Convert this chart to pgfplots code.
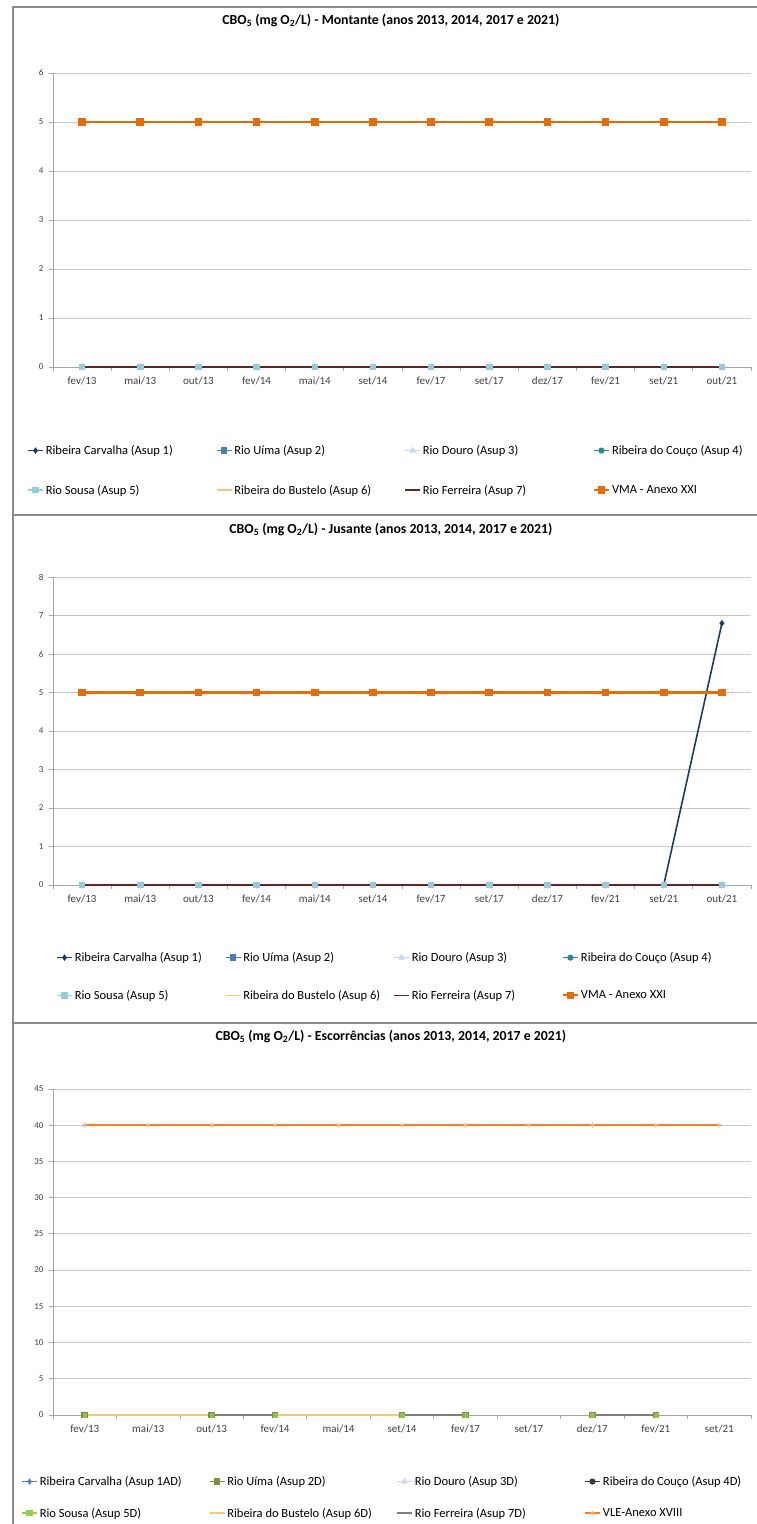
\documentclass[border=0pt]{standalone}
\usepackage{fontspec}
\setmainfont{Carlito}
\usepackage{pgfplots}
\pgfplotsset{compat=1.18}
\definecolor{Frame}{HTML}{8C8C8C}
\definecolor{AxisGray}{HTML}{A6A6A6}
\definecolor{GridGray}{HTML}{C8C8C8}
\definecolor{TickText}{HTML}{404040}
\definecolor{Navy}{HTML}{1F3864}
\definecolor{UimaBlue}{HTML}{4A7EBB}
\definecolor{DouroBlue}{HTML}{C6D9F1}
\definecolor{CoucoTeal}{HTML}{31859C}
\definecolor{SousaSky}{HTML}{93CDDD}
\definecolor{Bustelo}{HTML}{FAC775}
\definecolor{Ferreira}{HTML}{632523}
\definecolor{VMA}{HTML}{E46C0A}
\definecolor{CarvBlue}{HTML}{4F81BD}
\definecolor{Olive}{HTML}{77933C}
\definecolor{Plum}{HTML}{403151}
\definecolor{Lime}{HTML}{92D050}
\definecolor{FerrGray}{HTML}{7F7F7F}
\definecolor{VLE}{HTML}{F0812A}

\newcommand{\LA}[1]{\makebox[168pt][l]{#1}}
\newcommand{\LB}[1]{\makebox[148pt][l]{#1}}
\newcommand{\LC}[1]{\makebox[167pt][l]{#1}}

\pgfplotsset{
  excel/.style={
    scale only axis, width=698pt, anchor=south west,
    axis x line*=bottom, axis y line*=left,
    axis line style={color=AxisGray,line width=0.9pt},
    ymajorgrids, grid style={color=GridGray,line width=0.9pt},
    tick align=outside, major tick length=4pt,
    tick style={color=AxisGray,line width=0.8pt},
    xticklabels={},
    extra x tick style={major tick length=0pt},
    /pgf/number format/assume math mode=true,
    yticklabel style={font=\fontsize{9}{10}\selectfont,color=TickText,xshift=-2pt},
    xticklabel style={font=\fontsize{11}{12}\selectfont,color=TickText,yshift=-6pt},
    every axis title/.style={anchor=center,font=\bfseries\fontsize{13.8}{16}\selectfont},
    clip=false,
    legend columns=4,
    legend cell align=left,
    legend style={draw=none,fill=none,font=\fontsize{12.5}{15}\selectfont,
      anchor=north west,row sep=25pt,column sep=0pt},
    legend image code/.code={
      \draw[mark repeat=2,mark phase=2,##1] plot coordinates {(0pt,0pt) (7.5pt,0pt) (15pt,0pt)};},
  },
  s1/.style={color=Navy,line width=1.6pt,mark=diamond*,mark size=2pt},
  s2/.style={color=UimaBlue,line width=1.5pt,mark=square*,mark size=2.5pt},
  s3/.style={color=DouroBlue,line width=1.5pt,mark=triangle*,mark size=2.5pt},
  s4/.style={color=CoucoTeal,line width=1.5pt,mark=*,mark size=2.3pt},
  s5/.style={color=SousaSky,line width=1.5pt,mark=square*,mark size=2.5pt},
  s6/.style={color=Bustelo,line width=1.5pt,mark=none},
  s7/.style={color=Ferreira,line width=1.5pt,mark=none},
  s8/.style={color=VMA,line width=2.2pt,mark=square*,mark size=2.7pt},
}

\begin{document}
\begin{tikzpicture}
\useasboundingbox (0pt,0pt) rectangle (757pt,1524pt);
\draw[Frame,line width=2pt] (13pt,0pt) -- (13pt,1517pt) -- (800pt,1517pt);
\draw[Frame,line width=2.5pt] (13pt,1009pt) -- (800pt,1009pt);
\draw[Frame,line width=2.5pt] (13pt,501pt) -- (800pt,501pt);

% ---------- Montante ----------
\begin{axis}[excel,
  at={(53pt,1157pt)}, height=294pt,
  xmin=-0.5, xmax=11.5, ymin=0, ymax=6, ytick={0,1,...,6},
  xtick={-0.5,0.5,...,11.5},
  extra x ticks={0,1,...,11},
  extra x tick labels={fev/13,mai/13,out/13,fev/14,mai/14,set/14,fev/17,set/17,dez/17,fev/21,set/21,out/21},
  title={CBO\textsubscript{5} (mg O\textsubscript{2}/L) - Montante (anos 2013, 2014, 2017 e 2021)},
  title style={at={(0.484,1.18)}},
  legend style={at={(-0.0415,-0.252)}},
]
\addplot[s1] coordinates {(0,0) (1,0) (2,0) (3,0) (4,0) (5,0) (6,0) (7,0) (8,0) (9,0) (10,0) (11,0)};
\addlegendentry{\LA{Ribeira Carvalha (Asup 1)}}
\addplot[s2] coordinates {(0,0) (1,0) (2,0) (3,0) (4,0) (5,0) (6,0) (7,0) (8,0) (9,0) (10,0) (11,0)};
\addlegendentry{\LA{Rio Uíma (Asup 2)}}
\addplot[s3] coordinates {(0,0) (1,0) (2,0) (3,0) (4,0) (5,0) (6,0) (7,0) (8,0) (9,0) (10,0) (11,0)};
\addlegendentry{\LA{Rio Douro (Asup 3)}}
\addplot[s4] coordinates {(0,0) (1,0) (2,0) (3,0) (4,0) (5,0) (6,0) (7,0) (8,0) (9,0) (10,0) (11,0)};
\addlegendentry{\LA{Ribeira do Couço (Asup 4)}}
\addplot[s5] coordinates {(0,0) (1,0) (2,0) (3,0) (4,0) (5,0) (6,0) (7,0) (8,0) (9,0) (10,0) (11,0)};
\addlegendentry{\LA{Rio Sousa (Asup 5)}}
\addplot[s6] coordinates {(0,0) (1,0) (2,0) (3,0) (4,0) (5,0) (6,0) (7,0) (8,0) (9,0) (10,0) (11,0)};
\addlegendentry{\LA{Ribeira do Bustelo (Asup 6)}}
\addplot[s7] coordinates {(0,0) (1,0) (2,0) (3,0) (4,0) (5,0) (6,0) (7,0) (8,0) (9,0) (10,0) (11,0)};
\addlegendentry{\LA{Rio Ferreira (Asup 7)}}
\addplot[s8] coordinates {(0,5) (1,5) (2,5) (3,5) (4,5) (5,5) (6,5) (7,5) (8,5) (9,5) (10,5) (11,5)};
\addlegendentry{\LA{VMA - Anexo XXI}}
\end{axis}

% ---------- Jusante ----------
\begin{axis}[excel,
  at={(53pt,639pt)}, height=308pt,
  xmin=-0.5, xmax=11.5, ymin=0, ymax=8, ytick={0,1,...,8},
  xtick={-0.5,0.5,...,11.5},
  extra x ticks={0,1,...,11},
  extra x tick labels={fev/13,mai/13,out/13,fev/14,mai/14,set/14,fev/17,set/17,dez/17,fev/21,set/21,out/21},
  title={CBO\textsubscript{5} (mg O\textsubscript{2}/L) - Jusante (anos 2013, 2014, 2017 e 2021)},
  title style={at={(0.484,1.153)}},
  legend style={at={(0,-0.205)},row sep=23pt},
]
\addplot[s1] coordinates {(0,0) (1,0) (2,0) (3,0) (4,0) (5,0) (6,0) (7,0) (8,0) (9,0) (10,0) (11,6.8)};
\addlegendentry{\LB{Ribeira Carvalha (Asup 1)}}
\addplot[s2] coordinates {(0,0) (1,0) (2,0) (3,0) (4,0) (5,0) (6,0) (7,0) (8,0) (9,0) (10,0) (11,0)};
\addlegendentry{\LB{Rio Uíma (Asup 2)}}
\addplot[s3] coordinates {(0,0) (1,0) (2,0) (3,0) (4,0) (5,0) (6,0) (7,0) (8,0) (9,0) (10,0) (11,0)};
\addlegendentry{\LB{Rio Douro (Asup 3)}}
\addplot[s4] coordinates {(0,0) (1,0) (2,0) (3,0) (4,0) (5,0) (6,0) (7,0) (8,0) (9,0) (10,0) (11,0)};
\addlegendentry{\LB{Ribeira do Couço (Asup 4)}}
\addplot[s5] coordinates {(0,0) (1,0) (2,0) (3,0) (4,0) (5,0) (6,0) (7,0) (8,0) (9,0) (10,0) (11,0)};
\addlegendentry{\LB{Rio Sousa (Asup 5)}}
\addplot[s6] coordinates {(0,0) (1,0) (2,0) (3,0) (4,0) (5,0) (6,0) (7,0) (8,0) (9,0) (10,0) (11,0)};
\addlegendentry{\LB{Ribeira do Bustelo (Asup 6)}}
\addplot[s7] coordinates {(0,0) (1,0) (2,0) (3,0) (4,0) (5,0) (6,0) (7,0) (8,0) (9,0) (10,0) (11,0)};
\addlegendentry{\LB{Rio Ferreira (Asup 7)}}
\addplot[s8] coordinates {(0,5) (1,5) (2,5) (3,5) (4,5) (5,5) (6,5) (7,5) (8,5) (9,5) (10,5) (11,5)};
\addlegendentry{\LB{VMA - Anexo XXI}}
\end{axis}

% ---------- Escorrências ----------
\begin{axis}[excel,
  at={(53pt,109pt)}, height=326pt,
  xmin=-0.5, xmax=10.5, ymin=0, ymax=45, ytick={0,5,...,45},
  xtick={-0.5,0.5,...,10.5},
  extra x ticks={0,1,...,10},
  extra x tick labels={fev/13,mai/13,out/13,fev/14,mai/14,set/14,fev/17,set/17,dez/17,fev/21,set/21},
  title={CBO\textsubscript{5} (mg O\textsubscript{2}/L) - Escorrências (anos 2013, 2014, 2017 e 2021)},
  title style={at={(0.484,1.16)}},
  legend style={at={(-0.050,-0.175)},row sep=17pt},
  unbounded coords=jump,
]
\addlegendimage{color=CarvBlue,line width=1.5pt,mark=diamond*,mark size=2pt}
\addlegendentry{\LC{Ribeira Carvalha (Asup 1AD)}}
\addplot[color=Olive,line width=1.5pt,mark=square*,mark size=2.5pt] coordinates {(0,0) (1,nan) (2,0) (3,0) (4,nan) (5,0) (6,0) (7,nan) (8,0) (9,0) (10,nan)};
\addlegendentry{\LC{Rio Uíma (Asup 2D)}}
\addlegendimage{color=DouroBlue,line width=1.5pt,mark=triangle*,mark size=2.5pt}
\addlegendentry{\LC{Rio Douro (Asup 3D)}}
\addlegendimage{color=Plum,line width=1.5pt,mark=*,mark size=2.3pt}
\addlegendentry{\LC{Ribeira do Couço (Asup 4D)}}
\addlegendimage{color=Lime,line width=1.5pt,mark=square*,mark size=2.5pt}
\addlegendentry{\LC{Rio Sousa (Asup 5D)}}
\addplot[color=Bustelo,line width=1.5pt,mark=none] coordinates {(0,0) (1,0) (2,0) (3,0) (4,0) (5,0)};
\addlegendentry{\LC{Ribeira do Bustelo (Asup 6D)}}
\addplot[color=FerrGray,line width=1.5pt,mark=none] coordinates {(2,0) (3,0) (4,nan) (5,0) (6,0) (7,nan) (8,0) (9,0)};
\addlegendentry{\LC{Rio Ferreira (Asup 7D)}}
\addplot[color=VLE,line width=2.2pt,mark=asterisk,mark size=2.5pt,mark options={color=VLE!60,line width=0.8pt}] coordinates {(0,40) (1,40) (2,40) (3,40) (4,40) (5,40) (6,40) (7,40) (8,40) (9,40) (10,40)};
\addlegendentry{\LC{VLE-Anexo XVIII}}
\addplot[forget plot,color=Lime!80!Olive,only marks,mark=square*,mark size=1.9pt] coordinates {(0,0) (2,0) (3,0) (5,0) (6,0) (8,0) (9,0)};
\end{axis}
\end{tikzpicture}
\end{document}
